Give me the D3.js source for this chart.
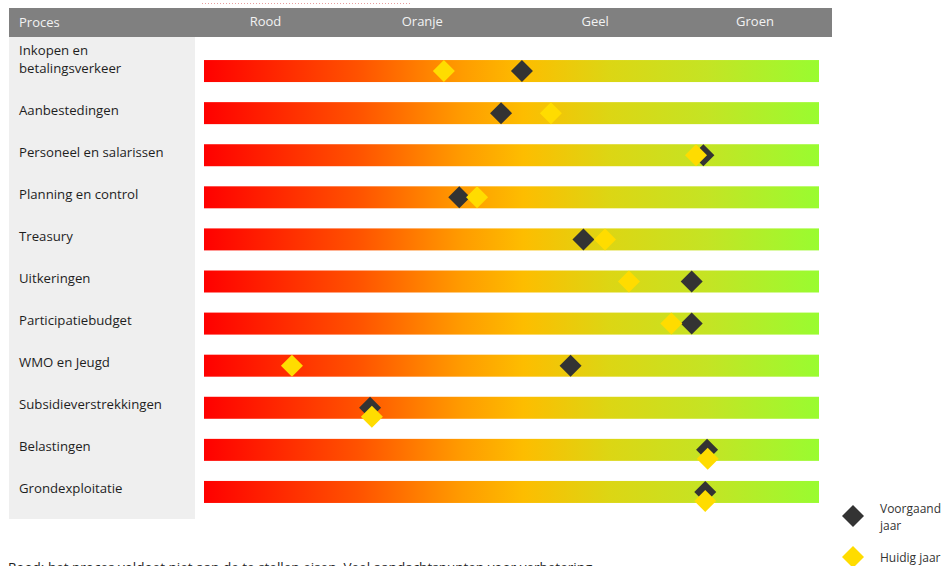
<!DOCTYPE html>
<html><head><meta charset="utf-8">
<script src="https://cdn.jsdelivr.net/npm/d3@7"></script>
<style>
body{margin:0;background:#fff;overflow:hidden}
svg{display:block}
text{font-family:"Open Sans",sans-serif}
</style></head>
<body><svg id="c" width="949" height="566"></svg>
<script>
// ---- data ----
const processes = ["Inkopen en betalingsverkeer","Aanbestedingen","Personeel en salarissen","Planning en control","Treasury","Uitkeringen","Participatiebudget","WMO en Jeugd","Subsidieverstrekkingen","Belastingen","Grondexploitatie"];
const voorgaandJaar = [51.7, 48.3, 81.2, 41.5, 61.7, 79.3, 79.3, 59.6, 27.0, 81.8, 81.5];
const huidigJaar    = [39.0, 56.4, 80.0, 44.4, 65.2, 69.1, 76.0, 14.3, 27.3, 81.9, 81.5];
const levels = ["Rood","Oranje","Geel","Groen"];
const levelTicks = [10, 35.5, 63.6, 89.6];
const seriesNames = ["Voorgaand jaar","Huidig jaar"];
const headerTitle = "Proces";
const footnote = "Rood:  het proces voldoet niet aan de te stellen eisen.  Veel aandachtspunten voor verbetering.";

// ---- chart ----
const svg = d3.select("#c");
const x = d3.scaleLinear().domain([0,100]).range([204,819]);
const y = d3.scalePoint().domain(processes).range([50,513]).padding(0.5);
const barH = 22;
const colors = {dark:"#333333", yellow:"#ffdc00"};

// dotted line at top
svg.append("line").attr("x1",202).attr("x2",410).attr("y1",3.5).attr("y2",3.5)
  .attr("stroke","#e8a0a0").attr("stroke-width",1).attr("stroke-dasharray","1,2");

// left panel
svg.append("rect").attr("x",9).attr("y",37).attr("width",186).attr("height",482).attr("fill","#efefef");
// header
svg.append("rect").attr("x",9).attr("y",8).attr("width",823).attr("height",29).attr("fill","#808080");
svg.append("text").attr("x",19).attr("y",27).attr("fill","#f2f2f2").attr("font-size",13).text(headerTitle);
svg.selectAll("text.lvl").data(levels).join("text").attr("class","lvl")
  .attr("x",(d,i)=>x(levelTicks[i])).attr("y",26).attr("text-anchor","middle")
  .attr("fill","#f2f2f2").attr("font-size",13).text(d=>d);

// gradient
const defs = svg.append("defs");
const grad = defs.append("linearGradient").attr("id","g").attr("gradientUnits","userSpaceOnUse")
  .attr("x1",x(0)).attr("x2",x(100)).attr("y1",0).attr("y2",0);
[[0,"#ff0000"],[0.25,"#ff5200"],[0.42,"#ff9c00"],[0.52,"#fdbd00"],[0.66,"#dcd614"],[0.82,"#c4e424"],[1,"#99fc30"]]
  .forEach(s=>grad.append("stop").attr("offset",s[0]).attr("stop-color",s[1]));

svg.selectAll("rect.bar").data(processes).join("rect").attr("class","bar")
  .attr("x",x(0)).attr("width",x(100)-x(0)).attr("y",d=>y(d)-barH/2).attr("height",barH)
  .attr("fill","url(#g)");

// labels with wrapping
function wrap(sel, width, lh){
  sel.each(function(){
    const t = d3.select(this), words = t.text().split(/\s+/);
    const x0 = t.attr("x"), y0 = +t.attr("y");
    t.text(null);
    let lines=[[]];
    let ts = t.append("tspan").attr("x",x0);
    words.forEach(w=>{
      const cur = lines[lines.length-1];
      cur.push(w); ts.text(cur.join(" "));
      if(ts.node().getComputedTextLength()>width && cur.length>1){
        cur.pop(); ts.text(cur.join(" "));
        lines.push([w]);
        ts = t.append("tspan").attr("x",x0).text(w);
      }
    });
    const n = lines.length;
    t.selectAll("tspan").attr("y",(d,i)=>y0-(n-1-i)*lh);
  });
}
svg.selectAll("text.lab").data(processes).join("text").attr("class","lab")
  .attr("x",19).attr("y",d=>y(d)+1.5).attr("font-size",13.2).attr("fill","#1e1e1e")
  .text(d=>d).call(wrap,165,18);

// markers
const sym = d3.symbol().type(d3.symbolSquare).size(242);
const rows = processes.map((p,i)=>({p,v:voorgaandJaar[i],h:huidigJaar[i]}));
svg.selectAll("path.v").data(rows).join("path").attr("class","v")
  .attr("d",sym).attr("fill",colors.dark)
  .attr("transform",d=>`translate(${x(d.v)},${y(d.p)}) rotate(45)`);
svg.selectAll("path.h").data(rows).join("path").attr("class","h")
  .attr("d",sym).attr("fill",colors.yellow)
  .attr("transform",d=>`translate(${x(d.h)},${y(d.p)+(Math.abs(d.h-d.v)<1?9:0)}) rotate(45)`);

// legend
const leg = [{c:colors.dark,cy:516},{c:colors.yellow,cy:557}];
leg.forEach(l=>{
  svg.append("path").attr("d",sym).attr("fill",l.c).attr("transform",`translate(853,${l.cy}) rotate(45)`);
});
svg.append("text").attr("x",880).attr("y",529.5).attr("font-size",12).attr("fill","#333").text(seriesNames[0]).call(wrap,66,16.5);
svg.append("text").attr("x",880).attr("y",562).attr("font-size",12).attr("fill","#333").text(seriesNames[1]);

// footnote
svg.append("text").attr("x",8).attr("y",572).attr("font-size",13.5).attr("fill","#222").text(footnote);
</script></body></html>
